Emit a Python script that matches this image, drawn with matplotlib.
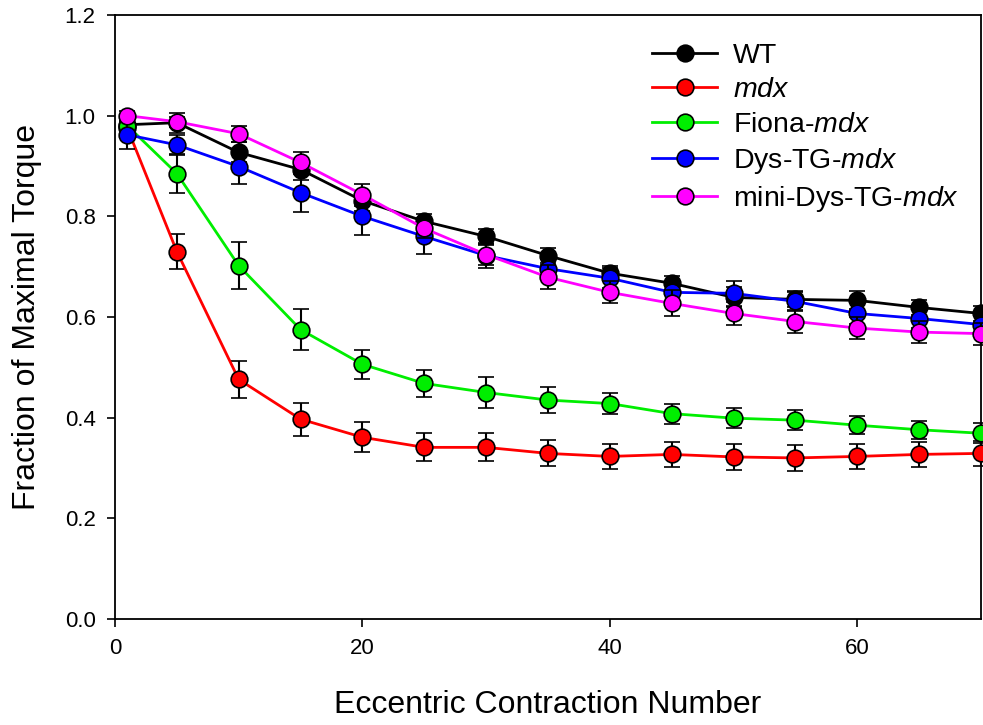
import numpy as np
import matplotlib
matplotlib.use("Agg")
import matplotlib.pyplot as plt

plt.rcParams['font.family'] = ['Liberation Sans', 'DejaVu Sans']
plt.rcParams['mathtext.fontset'] = 'custom'
plt.rcParams['mathtext.rm'] = 'Liberation Sans'
plt.rcParams['mathtext.it'] = 'Liberation Sans:italic'

# contraction numbers
contraction = [1, 5, 10, 15, 20, 25, 30, 35, 40, 45, 50, 55, 60, 65, 70]

wt = [0.982, 0.986, 0.927, 0.893, 0.831, 0.790, 0.760, 0.722, 0.687, 0.667, 0.639, 0.635, 0.633, 0.619, 0.607]
wt_err = [0.02, 0.02, 0.02, 0.02, 0.02, 0.015, 0.015, 0.015, 0.015, 0.015, 0.02, 0.015, 0.018, 0.015, 0.015]

mdx = [0.975, 0.730, 0.476, 0.397, 0.361, 0.341, 0.341, 0.329, 0.323, 0.327, 0.322, 0.320, 0.323, 0.327, 0.329]
mdx_err = [0.02, 0.035, 0.037, 0.033, 0.03, 0.028, 0.028, 0.026, 0.025, 0.025, 0.025, 0.025, 0.025, 0.025, 0.025]

fiona = [0.98, 0.885, 0.702, 0.575, 0.506, 0.468, 0.450, 0.435, 0.428, 0.408, 0.399, 0.395, 0.385, 0.376, 0.369]
fiona_err = [0.02, 0.038, 0.047, 0.04, 0.029, 0.026, 0.031, 0.025, 0.021, 0.02, 0.02, 0.02, 0.018, 0.018, 0.02]

dys = [0.962, 0.942, 0.899, 0.847, 0.800, 0.760, 0.722, 0.696, 0.677, 0.649, 0.647, 0.631, 0.607, 0.597, 0.585]
dys_err = [0.028, 0.02, 0.034, 0.038, 0.037, 0.035, 0.025, 0.02, 0.02, 0.02, 0.025, 0.02, 0.02, 0.018, 0.018]

mini = [1.0, 0.988, 0.964, 0.907, 0.843, 0.776, 0.724, 0.679, 0.649, 0.627, 0.607, 0.591, 0.578, 0.570, 0.567]
mini_err = [0.01, 0.01, 0.016, 0.02, 0.022, 0.02, 0.02, 0.024, 0.022, 0.026, 0.022, 0.022, 0.022, 0.022, 0.022]

series = [
    (wt, wt_err, 'black', 'WT'),
    (mdx, mdx_err, 'red', r'$\mathit{mdx}$'),
    (fiona, fiona_err, '#00ee00', r'Fiona-$\mathit{mdx}$'),
    (dys, dys_err, 'blue', r'Dys-TG-$\mathit{mdx}$'),
    (mini, mini_err, 'magenta', r'mini-Dys-TG-$\mathit{mdx}$'),
]

fig = plt.figure(figsize=(9.83, 7.25), dpi=100)
ax = fig.add_axes([115/983, 1-619/725, (981-115)/983, (619-15)/725])

handles = []
for i, (y, e, c, lab) in enumerate(series):
    cont = ax.errorbar(contraction, y, yerr=e, color=c, lw=2, marker='o', ms=12,
                       mfc=c, mec='black', mew=1.2, ecolor='black', elinewidth=1.5,
                       capsize=6, capthick=1.5, label=lab, zorder=3+i, clip_on=False)
    handles.append(cont[0])

ax.set_xlim(0, 70)
ax.set_ylim(0, 1.2)
ax.set_xticks([0, 20, 40, 60])
ax.set_yticks(np.arange(0, 1.21, 0.2))
ax.yaxis.set_major_formatter(plt.FormatStrFormatter('%.1f'))
ax.tick_params(direction='out', length=6, width=1.2, labelsize=16, pad=8,
               top=False, right=False)
for s in ax.spines.values():
    s.set_linewidth(1.3)

ax.set_xlabel('Eccentric Contraction Number', fontsize=23, labelpad=22)
ax.set_ylabel('Fraction of Maximal Torque', fontsize=23, labelpad=16)

leg = ax.legend(handles, [s[3] for s in series], loc='upper left',
                bbox_to_anchor=(652/983, 1-43/725),
                bbox_transform=fig.transFigure, frameon=False, fontsize=20.5,
                handlelength=2.3, handletextpad=0.55, labelspacing=0.29,
                borderpad=0, borderaxespad=0)

fig.savefig('out.png', dpi=100)
